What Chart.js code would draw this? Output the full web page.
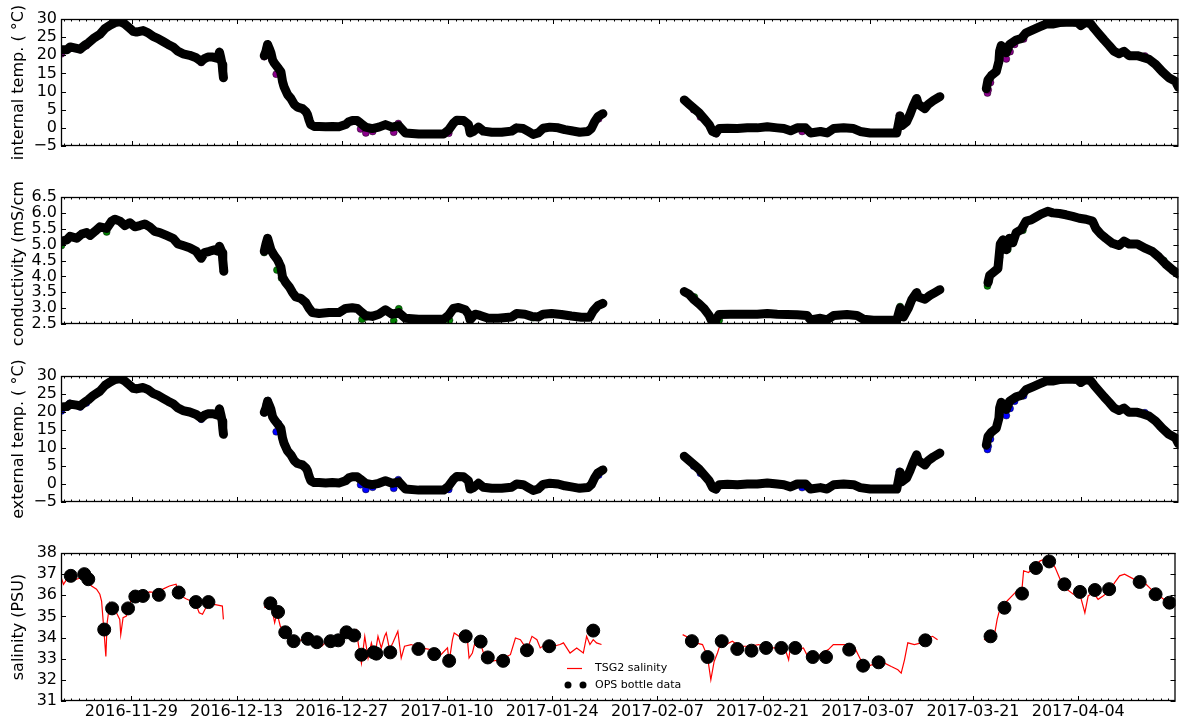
<!DOCTYPE html>
<html>
<head>
<meta charset="utf-8">
<script src="https://cdn.jsdelivr.net/npm/chart.js@4.4.0/dist/chart.umd.min.js"></script>
<style>
  html, body { margin: 0; padding: 0; background: #fff; }
  #wrap { position: relative; width: 1183px; height: 722px; }
  #wrap canvas { position: absolute; left: 0; }
</style>
</head>
<body>
<div id="wrap">
  <canvas id="intChart" width="1183" height="180" style="top:0px"></canvas>
  <canvas id="condChart" width="1183" height="180" style="top:180px"></canvas>
  <canvas id="extChart" width="1183" height="175" style="top:360px"></canvas>
  <canvas id="salChart" width="1183" height="187" style="top:535px"></canvas>
</div>
<script>
// x values are days since 2016-11-29
const tickDays = [0, 14, 28, 42, 56, 70, 84, 98, 112, 126];
const tickLabels = ['2016-11-29', '2016-12-13', '2016-12-27', '2017-01-10', '2017-01-24',
                    '2017-02-07', '2017-02-21', '2017-03-07', '2017-03-21', '2017-04-04'];

// temperature record (internal + external sensors share the same timestamps)
const tempDays = [
  -9.25, -8.59, -8.15, -7.27, -6.83, -6.17, -5.73, -5.07, -4.19, -3.52, -2.86, -2.20, -1.54, -0.88,
  -0.22, 0.22, 0.66, 1.54, 2.20, 2.86, 3.52, 4.19, 4.85, 5.51, 6.17, 6.83, 7.71, 8.59, 9.25, 9.69,
  10.13, 10.79, 11.45, 11.67, 11.85, 12.03, 12.11, 12.20,
  17.62, 17.84, 18.06, 18.28, 18.50, 18.72, 18.94, 19.38, 19.82, 20.04, 20.26, 20.70, 21.15, 21.59,
  22.03, 22.69, 23.13, 23.35, 23.57, 23.79, 24.23, 24.89, 25.77, 26.65, 27.53, 28.41, 28.85, 29.30,
  29.96, 30.40, 31.06, 31.94, 32.82, 33.70, 34.58, 35.47, 36.35, 38.11, 39.87, 41.41, 42.07, 42.73,
  43.17, 44.06, 44.72, 44.94, 45.38, 46.04, 46.70, 47.80, 49.12, 50.44, 51.11, 51.99, 52.65, 53.31,
  53.97, 54.63, 55.51, 56.62, 57.50, 58.38, 59.48, 60.58, 61.02, 61.46, 61.90, 62.56,
  73.36, 74.02, 74.68, 75.34, 76.00, 76.66, 77.11, 77.55, 77.99, 79.09, 80.41, 81.73, 83.05, 84.38,
  85.70, 86.58, 87.46, 88.34, 89.45, 90.11, 91.43, 92.31, 93.19, 94.51, 95.83, 96.71, 98.03, 99.35,
  100.68, 101.56, 102.00, 102.22, 102.88, 103.32, 103.76, 104.20, 104.42, 105.30, 105.74, 106.40, 107.28,
  113.45, 113.67, 114.11, 114.77, 115.12, 115.21, 115.43, 116.09, 116.53, 117.41, 118.07, 118.73,
  119.61, 120.49, 121.37, 122.25, 123.14, 124.02, 124.90, 125.56, 126.00, 126.66, 127.32, 127.76,
  128.42, 129.08, 129.74, 130.40, 131.06, 131.73, 132.39, 133.49, 134.15, 135.03, 135.91, 136.80,
  137.68, 138.56, 138.95
];
const intTemp = [
  21.5, 21.5, 22.3, 21.9, 21.7, 22.8, 23.4, 24.6, 25.8, 27.4, 28.3, 29.0, 29.3, 28.6,
  27.4, 26.6, 26.4, 26.8, 26.2, 25.2, 24.6, 23.8, 23.0, 22.3, 21.1, 20.4, 20.0, 19.3, 18.3, 19.1,
  19.5, 19.5, 19.1, 20.9, 19.3, 17.5, 15.5, 13.8,
  19.9, 21.1, 23.0, 21.9, 20.7, 18.7, 17.9, 16.7, 15.5, 12.8, 11.2, 9.2, 8.1, 6.5,
  5.7, 5.3, 4.5, 3.7, 2.1, 0.9, 0.4, 0.4, 0.3, 0.4, 0.3, 0.9, 1.7, 2.0,
  2.0, 1.3, 0.2, -0.2, 0.2, 0.9, 0.2, 0.6, -1.4, -1.7, -1.7, -1.7, -0.6, 1.3,
  2.1, 2.0, 0.9, -1.4, -1.0, 0.2, -0.9, -1.2, -1.2, -0.9, 0.0, -0.2, -1.0, -1.8,
  -1.4, -0.1, 0.2, 0.0, -0.5, -0.8, -1.2, -1.0, -0.2, 1.7, 3.1, 3.9,
  7.7, 6.5, 5.3, 4.1, 2.5, 0.9, -1.0, -1.4, -0.2, -0.1, -0.2, 0.0, 0.0, 0.3,
  0.0, -0.2, -0.8, 0.0, 0.0, -1.4, -1.0, -1.4, -0.2, 0.0, -0.2, -1.0, -1.4, -1.4,
  -1.4, -1.4, 3.3, 0.6, 1.7, 3.7, 6.1, 8.1, 6.5, 5.3, 6.5, 7.5, 8.6,
  10.8, 13.2, 14.4, 15.5, 18.3, 21.1, 22.7, 20.7, 23.0, 24.2, 24.6, 26.2,
  27.0, 27.8, 28.6, 28.6, 29.0, 29.1, 29.1, 29.0, 28.2, 29.1, 28.6, 27.4,
  25.8, 24.2, 22.7, 21.1, 20.4, 21.1, 19.9, 19.9, 19.5, 18.9, 17.5, 15.5,
  13.8, 12.8, 11.2
];
const extTemp = [
  21.4, 21.5, 22.2, 21.9, 21.7, 22.8, 23.4, 24.6, 25.8, 27.4, 28.3, 29.0, 29.3, 28.6,
  27.4, 26.6, 26.4, 26.8, 26.2, 25.2, 24.6, 23.8, 23.0, 22.3, 21.1, 20.4, 20.0, 19.3, 18.3, 19.1,
  19.5, 19.5, 19.1, 20.9, 19.3, 17.5, 15.5, 13.8,
  19.9, 21.1, 23.0, 21.9, 20.7, 18.7, 17.9, 16.7, 15.5, 12.8, 11.2, 9.2, 8.1, 6.5,
  5.7, 5.3, 4.5, 3.7, 2.1, 0.9, 0.4, 0.4, 0.3, 0.4, 0.3, 0.9, 1.7, 2.0,
  2.0, 1.3, 0.2, -0.2, 0.2, 0.9, 0.2, 0.6, -1.4, -1.7, -1.7, -1.7, -0.6, 1.3,
  2.1, 2.0, 0.9, -1.4, -1.0, 0.2, -0.9, -1.2, -1.2, -0.9, 0.0, -0.2, -1.0, -1.8,
  -1.4, -0.1, 0.2, 0.0, -0.5, -0.8, -1.2, -1.0, -0.2, 1.7, 3.1, 3.9,
  7.7, 6.5, 5.3, 4.1, 2.5, 0.9, -1.0, -1.4, -0.2, -0.1, -0.2, 0.0, 0.0, 0.3,
  0.0, -0.2, -0.8, 0.0, 0.0, -1.4, -1.0, -1.4, -0.2, 0.0, -0.2, -1.0, -1.4, -1.4,
  -1.4, -1.4, 3.3, 0.6, 1.7, 3.7, 6.1, 8.1, 6.5, 5.3, 6.5, 7.5, 8.6,
  10.8, 13.2, 14.4, 15.5, 18.3, 21.1, 22.7, 20.7, 23.0, 24.2, 24.6, 26.2,
  27.0, 27.8, 28.6, 28.6, 29.0, 29.1, 29.1, 29.0, 28.2, 29.1, 28.6, 27.4,
  25.8, 24.2, 22.7, 21.1, 20.4, 21.1, 19.9, 19.9, 19.5, 18.9, 17.5, 15.5,
  13.8, 12.8, 11.2
];

// raw readings that stick out of the smoothed band
const intSpikeDays = [-9.3, -8.2, -6.8, -6.0, 9.25, 12.1, 12.15, 12.2, 17.6, 17.9, 18.1, 19.2, 19.5, 19.7,
  20.1, 30.4, 31.1, 32.0, 34.8, 35.4, 42.1, 42.3, 44.9, 51.0, 53.4, 62.0, 62.56, 74.6, 75.5, 77.6,
  89.0, 90.3, 101.9, 102.0, 102.2, 104.4, 107.3, 113.6, 113.7, 114.0, 115.1, 115.2, 115.5, 116.1,
  116.6, 117.2, 118.4, 127.9, 132.4, 134.5, 136.5];
const intSpikeVals = [20.4, 22.2, 21.5, 22.6, 18.0, 16.5, 15.0, 13.8, 19.6, 22.0, 23.0, 14.8, 16.5, 15.0,
  12.0, -0.3, -1.4, -1.0, -1.2, 1.2, -1.5, 0.0, -1.2, 0.0, -1.8, 2.5, 3.9, 5.0, 3.0, -1.6,
  -1.0, -1.3, 3.5, 2.0, 0.5, 6.5, 8.6, 9.6, 10.5, 12.5, 18.3, 20.5, 21.5, 19.0,
  21.0, 23.0, 24.5, 27.0, 19.9, 19.8, 16.0];
const extSpikeDays = [-9.3, -8.2, -6.8, -6.0, 9.25, 12.1, 12.15, 12.2, 17.6, 17.9, 18.1, 19.2, 19.5, 19.7,
  20.1, 30.4, 31.1, 32.0, 34.8, 35.4, 42.1, 42.3, 44.9, 51.0, 53.4, 62.0, 62.56, 74.6, 75.5, 77.6,
  89.0, 90.3, 101.9, 102.0, 102.2, 104.4, 107.3, 113.6, 113.7, 114.0, 115.1, 115.2, 115.5, 116.1,
  116.6, 117.2, 118.4, 127.9, 132.4, 134.5, 136.5];
const extSpikeVals = [20.3, 22.4, 21.4, 22.5, 18.0, 16.5, 15.0, 13.8, 19.8, 22.2, 23.2, 14.5, 16.8, 15.2,
  12.0, -0.2, -1.5, -0.9, -1.2, 1.2, -1.5, 0.0, -1.2, 0.0, -1.7, 2.5, 4.0, 5.0, 3.0, -1.6,
  -1.0, -1.3, 3.5, 2.0, 0.5, 6.5, 8.6, 9.6, 10.5, 12.5, 18.3, 20.5, 21.5, 19.0,
  21.0, 23.0, 24.5, 27.0, 19.9, 19.8, 16.0];

// conductivity record
const condDays = [
  -9.25, -8.59, -8.15, -7.27, -6.61, -5.95, -5.51, -4.85, -4.19, -3.30, -2.64, -2.20, -1.54, -0.88,
  -0.22, 0.44, 1.10, 1.76, 2.42, 3.08, 3.74, 4.63, 5.51, 6.17, 6.83, 7.71, 8.59, 9.25, 9.69, 10.35,
  11.01, 11.45, 11.67, 12.03, 12.11, 12.25,
  17.62, 17.84, 18.06, 18.28, 18.50, 18.94, 19.38, 19.82, 20.04, 20.48, 20.93, 21.37, 21.81, 22.47,
  23.13, 23.57, 24.01, 24.89, 26.21, 27.53, 28.41, 29.30, 29.96, 30.40, 31.06, 31.94, 32.82, 33.70,
  34.58, 35.47, 36.35, 38.11, 41.41, 42.07, 42.73, 43.40, 44.28, 44.72, 44.94, 45.60, 46.26, 47.36,
  48.68, 50.44, 51.11, 52.21, 53.09, 53.97, 54.63, 55.73, 57.05, 58.38, 59.70, 60.80, 61.24, 61.90, 62.56,
  73.36, 74.02, 74.68, 75.34, 76.00, 76.66, 77.11, 77.55, 77.99, 79.53, 81.29, 83.05, 84.38, 85.70,
  87.02, 88.34, 89.66, 90.11, 91.43, 92.31, 93.19, 94.95, 96.27, 97.15, 98.47, 100.24, 101.56, 102.00,
  102.44, 103.10, 103.54, 104.20, 104.42, 105.30, 105.96, 106.62, 107.28,
  113.67, 113.89, 114.33, 114.99, 115.30, 115.65, 116.09, 116.53, 116.97, 117.41, 118.07, 118.73,
  119.39, 120.05, 120.71, 121.59, 122.25, 123.14, 124.02, 124.90, 125.78, 126.66, 127.54, 127.98,
  128.64, 129.30, 130.18, 131.06, 131.73, 132.39, 133.49, 134.59, 135.47, 136.35, 137.24, 138.12, 138.95
];
const cond = [
  5.11, 5.15, 5.26, 5.20, 5.33, 5.38, 5.29, 5.42, 5.56, 5.51, 5.74, 5.80, 5.74, 5.60,
  5.69, 5.56, 5.60, 5.65, 5.56, 5.42, 5.38, 5.29, 5.20, 5.02, 4.97, 4.90, 4.79, 4.57, 4.75, 4.79,
  4.84, 4.79, 4.95, 4.75, 4.52, 4.16,
  4.79, 5.02, 5.20, 5.02, 4.84, 4.66, 4.52, 4.30, 3.98, 3.80, 3.67, 3.49, 3.35, 3.31,
  3.17, 2.99, 2.86, 2.83, 2.86, 2.86, 2.99, 3.01, 2.99, 2.90, 2.77, 2.74, 2.81, 2.95,
  2.81, 2.86, 2.68, 2.65, 2.65, 2.77, 2.99, 3.02, 2.95, 2.81, 2.63, 2.81, 2.77, 2.68,
  2.68, 2.72, 2.83, 2.81, 2.74, 2.72, 2.81, 2.83, 2.80, 2.75, 2.71, 2.71, 2.90, 3.08, 3.15,
  3.52, 3.43, 3.26, 3.13, 2.98, 2.77, 2.54, 2.63, 2.80, 2.81, 2.81, 2.81, 2.83, 2.81,
  2.80, 2.79, 2.77, 2.63, 2.68, 2.63, 2.77, 2.80, 2.77, 2.65, 2.62, 2.62, 2.62, 3.00,
  2.72, 3.00, 3.26, 3.49, 3.35, 3.28, 3.40, 3.49, 3.58,
  3.80, 4.03, 4.12, 4.25, 5.02, 5.15, 4.84, 5.20, 5.06, 5.38, 5.47, 5.74,
  5.78, 5.87, 5.96, 6.05, 6.00, 5.98, 5.94, 5.89, 5.83, 5.80, 5.74, 5.51,
  5.33, 5.20, 5.04, 4.97, 5.11, 5.02, 5.02, 4.88, 4.79, 4.61, 4.39, 4.21, 4.07
];
const condSpikeDays = [-9.3, -8.2, -3.3, 12.1, 12.2, 17.6, 18.0, 19.3, 19.6, 19.9, 30.6, 31.1, 34.8,
  35.47, 42.2, 44.9, 51.1, 53.3, 62.56, 74.7, 76.0, 77.2, 78.0, 102.0, 102.5, 104.4, 107.3, 113.6,
  113.8, 115.1, 115.2, 115.5, 116.3, 117.0, 118.3, 128.0, 132.4, 134.8, 137.0];
const condSpikeVals = [4.97, 5.25, 5.40, 4.50, 4.16, 4.75, 5.10, 4.20, 4.45, 3.95, 2.65, 2.72, 2.60,
  2.98, 2.62, 2.63, 2.80, 2.70, 3.15, 3.35, 3.00, 2.55, 2.62, 3.05, 2.75, 3.35, 3.58, 3.70,
  3.85, 4.48, 4.60, 5.00, 4.85, 5.05, 5.45, 5.50, 5.03, 4.85, 4.50];

// TSG2 salinity
const salDays = [
  -9.34, -9.03, -8.59, -7.93, -7.27, -6.61, -5.95, -5.29, -4.63, -4.19, -3.96, -3.66, -3.39, -3.22,
  -2.86, -2.42, -1.98, -1.54, -1.41, -1.10, -0.66, -0.44, 0.00, 0.66, 1.54, 2.42, 3.30, 4.19, 5.07,
  5.95, 6.17, 6.61, 7.27, 7.93, 8.59, 9.03, 9.47, 9.91, 10.35, 11.01, 11.67, 12.11, 12.25,
  17.71, 18.28, 18.72, 19.07, 19.38, 19.82, 20.26, 20.70, 21.37, 22.25, 23.13, 24.01, 24.89, 25.33,
  25.99, 26.65, 27.53, 28.41, 29.30, 29.96, 30.18, 30.62, 31.06, 31.50, 31.94, 32.38, 32.82, 33.26,
  33.70, 33.92, 34.36, 34.80, 35.46, 35.91, 36.35, 37.23, 38.55, 39.87, 41.19, 42.07, 42.29, 42.73,
  42.96, 43.62, 44.28, 44.72, 44.94, 45.38, 45.82, 46.26, 46.92, 47.80, 49.12, 50.44, 51.11, 51.77,
  52.65, 53.31, 53.97, 54.41, 55.07, 56.17, 57.05, 57.50, 58.38, 59.26, 60.14, 60.58, 61.02, 61.46,
  61.90, 62.56,
  73.36, 74.24, 75.12, 76.00, 76.66, 77.11, 77.55, 77.99, 78.43, 79.09, 79.98, 80.86, 82.18, 83.50,
  84.38, 85.70, 87.02, 87.46, 87.68, 88.34, 88.77, 89.43, 90.11, 91.21, 91.87, 92.75, 93.41, 94.51,
  95.61, 96.27, 96.93, 97.59, 98.47, 99.35, 100.24, 101.12, 102.00, 102.44, 102.88, 103.32, 104.20,
  105.08, 105.96, 106.62, 107.28,
  113.45, 114.77, 115.21, 115.43, 115.87, 116.53, 117.19, 117.85, 118.51, 118.73, 119.39, 120.05,
  120.93, 121.59, 122.25, 122.91, 123.58, 124.46, 125.34, 126.22, 126.88, 127.32, 127.98, 128.64,
  129.30, 130.18, 130.84, 131.50, 132.16, 133.27, 134.15, 135.03, 135.91, 136.80, 137.68, 138.56, 138.95
];
const salinity = [
  36.84, 36.52, 36.76, 36.76, 36.76, 36.84, 36.68, 36.44, 36.29, 36.05, 35.73, 34.38, 33.11, 34.70,
  35.65, 35.33, 35.17, 34.86, 34.14, 34.94, 35.02, 35.33, 35.81, 35.97, 36.05, 36.16, 36.13, 36.29, 36.44,
  36.52, 36.29, 35.97, 35.84, 35.73, 35.57, 35.17, 35.10, 35.41, 35.57, 35.57, 35.52, 35.49, 34.86,
  35.41, 35.65, 35.33, 34.70, 35.17, 34.54, 34.30, 34.06, 33.90, 33.83, 33.98, 33.90, 33.67, 33.59,
  33.83, 33.90, 34.06, 34.38, 34.30, 34.38, 33.75, 32.79, 34.06, 33.03, 33.75, 33.11, 34.06, 33.51,
  34.06, 34.22, 33.43, 33.75, 34.30, 33.03, 33.59, 33.67, 33.51, 33.43, 33.19, 33.51, 32.87, 33.90,
  34.22, 34.06, 34.14, 33.90, 33.03, 33.27, 33.90, 33.98, 33.19, 32.87, 32.95, 33.19, 33.98, 33.90,
  33.43, 34.06, 33.90, 33.51, 33.67, 33.59, 33.67, 33.75, 33.27, 33.51, 33.27, 34.06, 33.67, 33.90,
  33.75, 33.67,
  34.14, 33.98, 33.75, 33.67, 33.11, 32.00, 32.87, 33.27, 33.75, 33.67, 33.83, 33.59, 33.59, 33.67,
  33.51, 33.51, 33.43, 32.95, 33.50, 33.51, 33.43, 33.51, 33.03, 33.03, 33.27, 33.43, 33.67, 33.67,
  33.67, 33.51, 33.03, 32.56, 32.71, 32.71, 32.79, 32.63, 32.48, 32.32, 32.95, 33.75, 33.67,
  33.75, 33.98, 34.06, 33.90,
  33.90, 33.98, 34.86, 35.17, 35.49, 35.73, 35.97, 36.21, 36.29, 37.16, 37.08, 37.32,
  37.63, 37.71, 37.63, 37.32, 36.76, 36.29, 36.05, 36.05, 35.17, 35.97, 36.13, 35.81,
  35.97, 36.21, 36.60, 36.92, 37.00, 36.79, 36.68, 36.52, 36.21, 35.97, 35.73, 35.57, 35.49
];

// OPS bottle samples
const bottleDays = [-8.06, -6.26, -5.73, -3.61, -2.56, -0.44, 0.53, 1.54, 3.66, 6.30, 8.59, 10.26,
  18.50, 19.52, 20.48, 21.59, 23.48, 24.67, 26.52, 27.53, 28.63, 29.65, 30.62, 32.25, 32.60, 34.45,
  38.20, 40.30, 42.29, 44.49, 46.48, 47.43, 49.47, 52.64, 55.60, 61.46,
  74.59, 76.67, 78.56, 80.63, 82.52, 84.46, 86.49, 88.34, 90.67, 92.43, 95.52, 97.37, 99.43, 105.65,
  114.33, 116.18, 118.52, 120.37, 122.13, 124.16, 126.23, 128.22, 130.11, 134.17, 136.29, 138.14];
const bottleSal = [36.92, 37.00, 36.76, 34.38, 35.38, 35.38, 35.94, 35.97, 36.02, 36.13, 35.68, 35.68,
  35.62, 35.21, 34.25, 33.83, 33.94, 33.78, 33.83, 33.87, 34.25, 34.10, 33.19, 33.30, 33.24, 33.30,
  33.46, 33.22, 32.90, 34.06, 33.81, 33.06, 32.90, 33.40, 33.59, 34.33,
  33.83, 33.08, 33.83, 33.46, 33.38, 33.51, 33.51, 33.51, 33.08, 33.08, 33.43, 32.67, 32.83, 33.87,
  34.06, 35.41, 36.08, 37.29, 37.60, 36.52, 36.16, 36.25, 36.29, 36.63, 36.05, 35.65];

const FONT = 'DejaVu Sans';
Chart.defaults.font.family = FONT;
Chart.defaults.color = '#000';

const pts = (xs, ys) => xs.map((x, i) => ({ x: x, y: ys[i] }));
const minus = v => String(v).replace('-', '\u2212');

// matplotlib style box with inward ticks on all four sides
const frameTicks = {
  id: 'frameTicks',
  afterDatasetsDraw(chart) {
    const { ctx, chartArea: a } = chart;
    const xs = chart.scales.x, ys = chart.scales.y;
    ctx.save();
    ctx.strokeStyle = '#000';
    ctx.lineWidth = 1;
    ctx.beginPath();
    for (let d = Math.ceil(xs.min); d <= xs.max; d++) {
      const px = Math.round(xs.getPixelForValue(d)) + 0.5;
      const len = tickDays.includes(d) ? 5 : 2.5;
      ctx.moveTo(px, a.top); ctx.lineTo(px, a.top + len);
      ctx.moveTo(px, a.bottom); ctx.lineTo(px, a.bottom - len);
    }
    ys.ticks.forEach(t => {
      const py = Math.round(ys.getPixelForValue(t.value)) + 0.5;
      ctx.moveTo(a.left, py); ctx.lineTo(a.left + 5, py);
      ctx.moveTo(a.right, py); ctx.lineTo(a.right - 5, py);
    });
    ctx.stroke();
    ctx.lineWidth = 1.3;
    ctx.strokeRect(a.left + 0.5, a.top + 0.5, a.right - a.left - 1, a.bottom - a.top - 1);
    ctx.restore();
  }
};

// y title drawn by hand so long titles may run past the plot height, like matplotlib
const yTitle = {
  id: 'yTitle',
  afterDraw(chart, args, opts) {
    const { ctx, chartArea: a } = chart;
    ctx.save();
    ctx.translate(19, (a.top + a.bottom) / 2);
    ctx.rotate(-Math.PI / 2);
    ctx.font = '16px "' + FONT + '"';
    ctx.fillStyle = '#000';
    ctx.textAlign = 'center';
    ctx.textBaseline = 'middle';
    ctx.fillText(opts.text, 0, 0);
    ctx.restore();
  }
};

const legendBox = {
  id: 'legendBox',
  afterDraw(chart) {
    const ctx = chart.ctx;
    ctx.save();
    ctx.strokeStyle = '#ff0000';
    ctx.lineWidth = 1.2;
    ctx.beginPath(); ctx.moveTo(567, 133.5); ctx.lineTo(582, 133.5); ctx.stroke();
    ctx.fillStyle = '#000';
    [568, 583].forEach(px => { ctx.beginPath(); ctx.arc(px, 150, 3.5, 0, Math.PI * 2); ctx.fill(); });
    ctx.font = '11px "' + FONT + '"';
    ctx.textBaseline = 'middle';
    ctx.fillText('TSG2 salinity', 595, 133);
    ctx.fillText('OPS bottle data', 595, 150);
    ctx.restore();
  }
};

function makePanel(id, o) {
  return new Chart(document.getElementById(id), {
    type: 'line',
    data: { datasets: o.datasets },
    plugins: o.legend ? [frameTicks, yTitle, legendBox] : [frameTicks, yTitle],
    options: {
      responsive: false,
      animation: false,
      events: [],
      layout: { padding: { top: o.padTop, bottom: o.padBottom, left: 0, right: 2 } },
      plugins: { legend: { display: false }, tooltip: { enabled: false }, yTitle: { text: o.yTitle } },
      scales: {
        x: {
          type: 'linear',
          min: -9.36,
          max: 138.94,
          display: !!o.showX,
          afterBuildTicks: s => { s.ticks = tickDays.map(v => ({ value: v })); },
          ticks: {
            autoSkip: false, maxRotation: 0, padding: 3,
            font: { size: 16, lineHeight: 1.0 }, color: '#000',
            callback: (v, i) => tickLabels[i]
          },
          grid: { display: false, drawTicks: false },
          border: { display: false },
          afterFit: s => { s.height = 21; s.paddingLeft = 0; s.paddingRight = 0; }
        },
        y: {
          min: o.yMin,
          max: o.yMax,
          ticks: {
            autoSkip: false, stepSize: o.yStep, font: { size: 16 }, color: '#000',
            padding: 4, callback: o.yFmt
          },
          grid: { display: false, drawTicks: false },
          border: { display: false },
          afterFit: s => { s.width = 61; s.paddingTop = 0; s.paddingBottom = 0; }
        }
      }
    }
  });
}

function sensorSets(days, vals, spikeDays, spikeVals, colour) {
  return [
    {
      data: pts(days, vals), borderColor: '#000', borderWidth: 9,
      borderCapStyle: 'round', borderJoinStyle: 'round',
      pointRadius: 0, spanGaps: 4, order: 0
    },
    {
      data: pts(spikeDays, spikeVals), showLine: false,
      pointRadius: 3.5, pointBackgroundColor: colour,
      pointBorderColor: 'rgba(0,0,0,0.7)', pointBorderWidth: 0.6, order: 1
    }
  ];
}

makePanel('intChart', {
  datasets: sensorSets(tempDays, intTemp, intSpikeDays, intSpikeVals, '#8b008b'),
  padTop: 19, padBottom: 13, yMin: -5, yMax: 30, yStep: 5, yFmt: minus,
  yTitle: 'internal temp. ( \u00b0C)'
});

makePanel('condChart', {
  datasets: sensorSets(condDays, cond, condSpikeDays, condSpikeVals, '#008000'),
  padTop: 17, padBottom: 15, yMin: 2.5, yMax: 6.5, yStep: 0.5, yFmt: v => v.toFixed(1),
  yTitle: 'conductivity (mS/cm)'
});

makePanel('extChart', {
  datasets: sensorSets(tempDays, extTemp, extSpikeDays, extSpikeVals, '#0000ff'),
  padTop: 16, padBottom: 12, yMin: -5, yMax: 30, yStep: 5, yFmt: minus,
  yTitle: 'external temp. ( \u00b0C)'
});

makePanel('salChart', {
  datasets: [
    {
      data: pts(bottleDays, bottleSal), showLine: false,
      pointRadius: 6.5, pointBackgroundColor: '#000', pointBorderColor: '#000', order: 0
    },
    {
      data: pts(salDays, salinity), borderColor: '#ff0000', borderWidth: 1.2,
      pointRadius: 0, spanGaps: 4, order: 1
    }
  ],
  padTop: 18, padBottom: 0, yMin: 31, yMax: 38, yStep: 1, yFmt: v => v,
  yTitle: 'salinity (PSU)', showX: true, legend: true
});
</script>
</body>
</html>
